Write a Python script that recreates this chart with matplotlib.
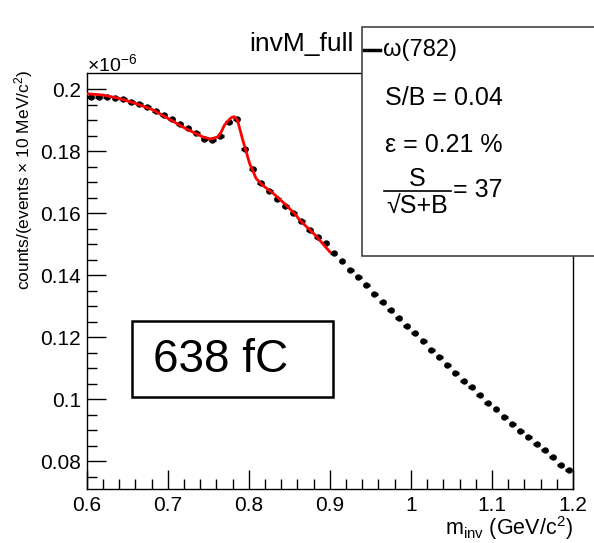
import matplotlib as mpl
mpl.use('agg')
import matplotlib.pyplot as plt
from matplotlib.patches import Rectangle
from matplotlib.lines import Line2D
import numpy as np

plt.rcParams['font.family'] = ['Liberation Sans', 'DejaVu Sans']
plt.rcParams['mathtext.fontset'] = 'custom'
plt.rcParams['mathtext.rm'] = 'Liberation Sans'
plt.rcParams['mathtext.it'] = 'Liberation Sans:italic'

# bin centres (GeV/c^2) and counts (x 1e-6)
m_inv = np.round(np.arange(0.605, 1.2, 0.01), 3)
counts = [0.1974, 0.1976, 0.1974, 0.1971, 0.1968, 0.1959, 0.1951, 0.1943, 0.1931, 0.1918,
          0.1904, 0.1889, 0.1873, 0.1858, 0.1840, 0.1836, 0.1848, 0.1895, 0.1902, 0.1806,
          0.1741, 0.1696, 0.1672, 0.1645, 0.1623, 0.1601, 0.1575, 0.1547, 0.1522, 0.1502,
          0.1472, 0.1444, 0.1418, 0.1393, 0.1367, 0.1339, 0.1313, 0.1289, 0.1261, 0.1235,
          0.1212, 0.1186, 0.1160, 0.1135, 0.1110, 0.1085, 0.1059, 0.1038, 0.1013, 0.0987,
          0.0967, 0.0943, 0.0920, 0.0898, 0.0878, 0.0855, 0.0835, 0.0813, 0.0789, 0.0771]

# fit curve
fit_x = [0.600, 0.620, 0.640, 0.660, 0.681, 0.700, 0.722, 0.743, 0.753, 0.762, 0.766,
         0.770, 0.776, 0.779, 0.782, 0.786, 0.792, 0.801, 0.809, 0.817, 0.830, 0.846,
         0.858, 0.863, 0.882, 0.900]
fit_y = [0.1985, 0.1981, 0.1970, 0.1954, 0.1934, 0.1906, 0.1873, 0.1846, 0.1839, 0.1846, 0.1862,
         0.1884, 0.1902, 0.1909, 0.1911, 0.1900, 0.1841, 0.1760, 0.1712, 0.1690, 0.1664, 0.1626,
         0.1594, 0.1577, 0.1529, 0.1475]

W, H = 594, 543
fig = plt.figure(figsize=(W / 100, H / 100), dpi=100)

def fx(px):
    return px / W

def fy(py):
    return 1 - py / H

ax = fig.add_axes([fx(86.7), fy(489), fx(573) - fx(86.7), fy(73) - fy(489)])
ax.errorbar(m_inv, counts, xerr=0.0043, fmt='o', ms=3.6, color='k',
            elinewidth=2.4, capsize=0, zorder=3)
ax.plot(fit_x, fit_y, color='red', lw=2, zorder=4)

ax.set_xlim(0.6, 1.2)
ax.set_ylim(0.071, 0.2052)
ax.set_xticks([0.6, 0.7, 0.8, 0.9, 1.0, 1.1, 1.2])
ax.set_xticklabels(['0.6', '0.7', '0.8', '0.9', '1', '1.1', '1.2'])
ax.set_xticks(np.arange(0.62, 1.2, 0.02), minor=True)
ax.set_yticks([0.08, 0.1, 0.12, 0.14, 0.16, 0.18, 0.2])
ax.set_yticklabels(['0.08', '0.1', '0.12', '0.14', '0.16', '0.18', '0.2'])
ax.set_yticks(np.arange(0.075, 0.205, 0.005), minor=True)
ax.tick_params(which='both', direction='in', labelsize=15, width=1)
ax.tick_params(which='major', length=14)
ax.tick_params(which='minor', length=7)
ax.tick_params(axis='x', pad=5)
ax.tick_params(axis='y', pad=4)
for s in ax.spines.values():
    s.set_linewidth(1)

fig.text(fx(87), fy(64), r'$\times$10$^{-6}$', fontsize=14, ha='left', va='center')
fig.text(fx(24), fy(70), r'counts/(events $\times$ 10 MeV/c$^{2}$)', fontsize=12.5,
         rotation=90, ha='center', va='top')
fig.text(fx(573), fy(528), r'm$_{\rm inv}$ (GeV/c$^{2}$)', fontsize=15.5, ha='right', va='center')
fig.text(fx(301), fy(44), 'invM_full', fontsize=19, ha='center', va='center')

# stats / legend box
fig.add_artist(Rectangle((fx(362), fy(256)), fx(640) - fx(362), fy(27) - fy(256),
                         transform=fig.transFigure, facecolor='white', edgecolor='#444444',
                         lw=1.2, zorder=10))
fig.add_artist(Line2D([fx(364), fx(380)], [fy(50), fy(50)], transform=fig.transFigure,
                      color='k', lw=2.5, zorder=11))
fig.text(fx(383), fy(50), 'ω(782)', fontsize=17, ha='left', va='center', zorder=11)
fig.text(fx(385), fy(98), 'S/B = 0.04', fontsize=18, ha='left', va='center', zorder=11)
fig.text(fx(385), fy(145), 'ε = 0.21 %', fontsize=18, ha='left', va='center', zorder=11)
# S / sqrt(S+B) = 37
fig.text(fx(417), fy(179), 'S', fontsize=18, ha='center', va='center', zorder=11)
fig.add_artist(Line2D([fx(384), fx(451)], [fy(191), fy(191)], transform=fig.transFigure,
                      color='k', lw=1.2, zorder=11))
fig.text(fx(417), fy(206), '√S+B', fontsize=18, ha='center', va='center', zorder=11)
fig.text(fx(453), fy(190), '= 37', fontsize=18, ha='left', va='center', zorder=11)

# energy label box
fig.add_artist(Rectangle((fx(132), fy(397)), fx(333) - fx(132), fy(321) - fy(397),
                         transform=fig.transFigure, facecolor='white', edgecolor='k',
                         lw=1.8, zorder=10))
fig.text(fx(153), fy(360), '638 fC', fontsize=33, ha='left', va='center', zorder=11)

fig.savefig('out.png', dpi=100)
